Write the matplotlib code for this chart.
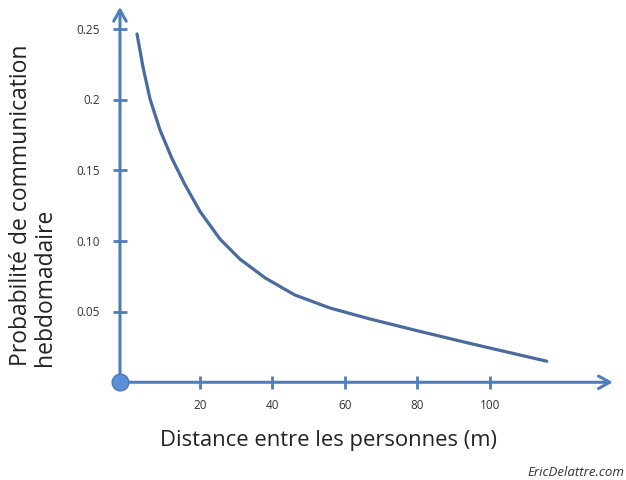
import matplotlib.pyplot as plt

# values
distance = [2.6, 4.25, 6.2, 8.95, 12.3, 15.9, 20.0, 25.5, 31.0, 38.0, 46.2, 55.9,
            67.0, 80.8, 94.6, 108.4, 115.8]
probabilite = [0.2467, 0.2233, 0.2006, 0.1787, 0.1582, 0.1397, 0.1210, 0.1015,
               0.0873, 0.0739, 0.0618, 0.0526, 0.0448, 0.0360, 0.0275, 0.0193,
               0.0149]

x_ticks = [20, 40, 60, 80, 100]
y_ticks = [0.05, 0.10, 0.15, 0.2, 0.25]
y_tick_labels = ['0.05', '0.10', '0.15', '0.2', '0.25']

axis_color = '#4f7dba'
curve_color = '#4a6b9e'

plt.rcParams['font.family'] = ['Open Sans', 'DejaVu Sans']

fig = plt.figure(figsize=(6.26, 4.81), dpi=100)
ax = fig.add_axes([0.1757, 0.1788, 0.8147, 0.8108])
ax.set_xlim(-4.86, 136.0)
ax.set_ylim(-0.0083, 0.2679)

x_axis_pos = -2.1

# axes drawn as arrows
for s in ax.spines.values():
    s.set_visible(False)
ax.annotate('', xy=(134, 0), xytext=(x_axis_pos, 0),
            arrowprops=dict(arrowstyle='->,head_length=0.8,head_width=0.45',
                            color=axis_color, lw=2.2, shrinkA=0, shrinkB=0))
ax.annotate('', xy=(x_axis_pos, 0.2658), xytext=(x_axis_pos, 0),
            arrowprops=dict(arrowstyle='->,head_length=0.8,head_width=0.45',
                            color=axis_color, lw=2.2, shrinkA=0, shrinkB=0))

# crossing tick marks
for t in x_ticks:
    ax.plot([t, t], [-0.0045, 0.0045], color=axis_color, lw=2, solid_capstyle='butt')
    ax.text(t, -0.011, str(t), ha='center', va='top', fontsize=8.5, color='#333333')
for t, lab in zip(y_ticks, y_tick_labels):
    ax.plot([x_axis_pos - 2, x_axis_pos + 2], [t, t], color=axis_color, lw=2,
            solid_capstyle='butt')
    ax.text(x_axis_pos - 5.5, t, lab, ha='right', va='center', fontsize=8.5,
            color='#333333', clip_on=False)

ax.plot(distance, probabilite, color=curve_color, lw=2.3, solid_capstyle='round',
        solid_joinstyle='round')
ax.plot([x_axis_pos], [0], 'o', ms=12, color='#5b8fd8', mec='#4a78b8', mew=1,
        zorder=5, clip_on=False)

ax.set_xticks([])
ax.set_yticks([])

fig.text(0.525, 0.085, 'Distance entre les personnes (m)', ha='center', va='center',
         fontsize=15.8, color='#222222')
fig.text(0.014, 0.24, 'Probabilité de communication\nhebdomadaire', rotation=90,
         ha='left', va='bottom', multialignment='left', fontsize=16.5,
         color='#222222', linespacing=1.0)
fig.text(0.997, 0.005, 'EricDelattre.com', ha='right', va='bottom', fontsize=9.5,
         style='italic', color='#333333')

fig.savefig('out.png', dpi=100)
